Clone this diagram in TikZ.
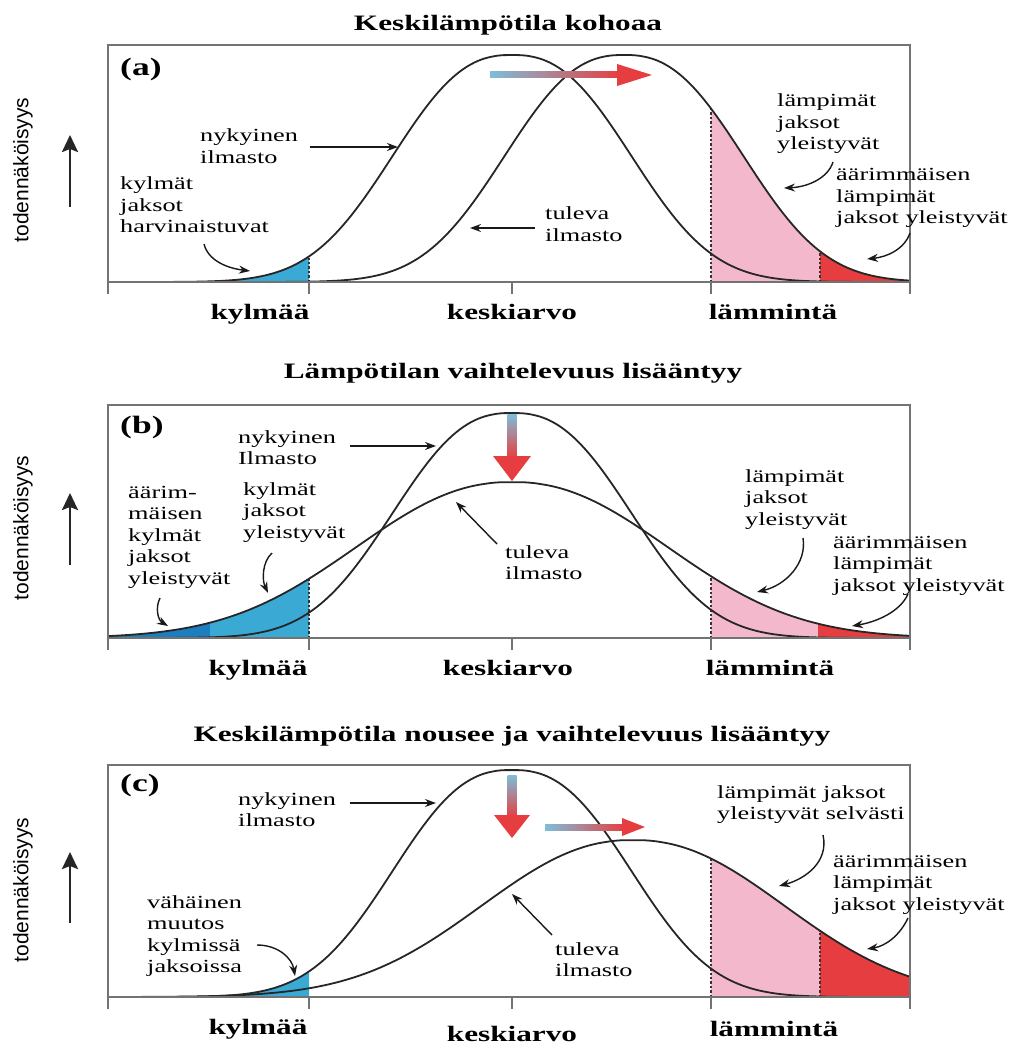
\documentclass[tikz,border=0pt]{standalone}
\usepackage{fontspec}
\setmainfont{Liberation Serif}
\newfontfamily\sansf{Liberation Sans}
\usepackage{graphicx}
\usetikzlibrary{arrows.meta}
\definecolor{cblue}{RGB}{58,170,212}
\definecolor{cdblue}{RGB}{28,126,190}
\definecolor{cpink}{RGB}{244,184,205}
\definecolor{cred}{RGB}{230,62,64}
\definecolor{gradblue}{RGB}{125,190,218}
\definecolor{gradpink}{RGB}{232,150,172}
\definecolor{framegray}{RGB}{115,115,115}
\newcommand{\lbl}[1]{\scalebox{1.42}[1]{\begin{tabular}[t]{@{}l@{}}#1\end{tabular}}}
\newcommand{\ttl}[1]{\scalebox{1.42}[1]{#1}}
\tikzset{
 lab/.style={anchor=base west, inner sep=0pt, font=\fontsize{18.5pt}{21.5pt}\selectfont},
 axlab/.style={anchor=base, inner sep=0pt, font=\fontsize{22pt}{26pt}\selectfont\bfseries},
 ttlst/.style={anchor=base, inner sep=0pt, font=\fontsize{22pt}{26pt}\selectfont\bfseries},
 panlab/.style={anchor=base west, inner sep=0pt, font=\fontsize{25pt}{28pt}\selectfont\bfseries},
 ylab/.style={rotate=90, inner sep=0pt, font=\sansf\fontsize{21pt}{24pt}\selectfont},
 curve/.style={line width=1.8pt, black!85},
 frm/.style={line width=1.8pt, framegray},
 ptr/.style={line width=1.4pt, black!90, -{Stealth[length=11pt,width=8pt]}},
 yarr/.style={line width=2.6pt, black!85, -{Stealth[length=17pt,width=16pt,inset=3pt]}},
 dotln/.style={line width=2.4pt, dotted, black!80},
 headfill/.style={fill=cred},
}
\begin{document}
\begin{tikzpicture}[x=1pt,y=-1pt,
 declare function={
  fa(\u,\m)=exp(-min((max(abs(\u-\m)/148,0.05))^2.47,9));
  fb(\u,\m,\a)=exp(-min((max(abs(\u-\m)/\a,0.05))^2.2,9));
 }]
\useasboundingbox (0,0) rectangle (1014,1048);

%% ================= PANEL (a) =================
\fill[cblue] (108,282) -- plot[domain=108:309,samples=60] (\x,{282-227*fa(\x,512)}) -- (309,282) -- cycle;
\fill[cpink] (711,282) -- plot[domain=711:820,samples=40] (\x,{282-227*fa(\x,624)}) -- (820,282) -- cycle;
\fill[cred] (820,282) -- plot[domain=820:910,samples=40] (\x,{282-227*fa(\x,624)}) -- (910,282) -- cycle;
\draw[dotln] (309,282) -- (309,{282-227*fa(309,512)});
\draw[dotln] (711,282) -- (711,{282-227*fa(711,624)});
\draw[dotln] (820,282) -- (820,{282-227*fa(820,624)});
\draw[curve] plot[domain=108:910,samples=220] (\x,{282-227*fa(\x,512)});
\draw[curve] plot[domain=108:910,samples=220] (\x,{282-227*fa(\x,624)});
\draw[frm] (108,294) -- (108,45) -- (910,45) -- (910,294);
\draw[frm] (108,282) -- (910,282);
\foreach \t in {309,512,711} \draw[frm] (\t,282) -- (\t,294);
% shift arrow
\shade[left color=gradblue, middle color=gradpink, right color=cred] (490,72) rectangle (620,78);
\fill[headfill] (617,64) -- (652,75) -- (617,86) -- cycle;
% texts
\node[ttlst] (a-t) at (508,31) {\ttl{Keskilämpötila kohoaa}};
\node[panlab] (a-p) at (120,76) {\ttl{(a)}};
\node[ylab] (a-y) at (23,170) {todennäköisyys};
\coordinate (a-y0) at (70,207); \coordinate (a-y1) at (70,135);
\draw[yarr] (a-y0) -- (a-y1);
\node[lab] (a-ny) at (200,142) {\lbl{nykyinen\\ilmasto}};
\coordinate (a-ny0) at (310,147); \coordinate (a-ny1) at (398,147);
\draw[ptr] (a-ny0) -- (a-ny1);
\node[lab] (a-ky) at (120,190) {\lbl{kylmät\\jaksot\\harvinaistuvat}};
\coordinate (a-ky0) at (204,244); \coordinate (a-ky1) at (250,271);
\draw[ptr] (a-ky0) .. controls (208,260) and (226,268) .. (a-ky1);
\node[lab] (a-tu) at (545,220) {\lbl{tuleva\\ilmasto}};
\coordinate (a-tu0) at (535,228); \coordinate (a-tu1) at (470,228);
\draw[ptr] (a-tu0) -- (a-tu1);
\node[lab] (a-la) at (777,107) {\lbl{lämpimät\\jaksot\\yleistyvät}};
\coordinate (a-la0) at (833,162); \coordinate (a-la1) at (784,188);
\draw[ptr] (a-la0) .. controls (828,178) and (808,187) .. (a-la1);
\node[lab] (a-aa) at (836,181) {\lbl{äärimmäisen\\lämpimät\\jaksot yleistyvät}};
\coordinate (a-aa0) at (910,233); \coordinate (a-aa1) at (867,259);
\draw[ptr] (a-aa0) .. controls (904,250) and (886,257) .. (a-aa1);
\node[axlab] (a-x1) at (260,319) {\ttl{kylmää}};
\node[axlab] (a-x2) at (512,319) {\ttl{keskiarvo}};
\node[axlab] (a-x3) at (773,319) {\ttl{lämmintä}};

%% ================= PANEL (b) =================
\fill[cdblue] (108,638) -- plot[domain=108:210,samples=40] (\x,{638-156*fb(\x,512,206)}) -- (210,638) -- cycle;
\fill[cblue] (210,638) -- plot[domain=210:309,samples=40] (\x,{638-156*fb(\x,512,206)}) -- (309,638) -- cycle;
\fill[cpink] (711,638) -- plot[domain=711:818,samples=40] (\x,{638-156*fb(\x,512,206)}) -- (818,638) -- cycle;
\fill[cred] (818,638) -- plot[domain=818:910,samples=40] (\x,{638-156*fb(\x,512,206)}) -- (910,638) -- cycle;
\draw[dotln] (309,638) -- (309,{638-156*fb(309,512,206)});
\draw[dotln] (711,638) -- (711,{638-156*fb(711,512,206)});
\draw[curve] plot[domain=108:910,samples=220] (\x,{638-225*fa(\x,512)});
\draw[curve] plot[domain=108:910,samples=220] (\x,{638-156*fb(\x,512,206)});
\draw[frm] (108,650) -- (108,405) -- (910,405) -- (910,650);
\draw[frm] (108,638) -- (910,638);
\foreach \t in {309,512,711} \draw[frm] (\t,638) -- (\t,650);
\shade[top color=gradblue, middle color=gradpink, bottom color=cred] (507.5,414) rectangle (516.5,458);
\fill[headfill] (493,456) -- (531,456) -- (512,481) -- cycle;
\node[ttlst] (b-t) at (513,378) {\ttl{Lämpötilan vaihtelevuus lisääntyy}};
\node[panlab] (b-p) at (120,433) {\ttl{(b)}};
\node[ylab] (b-y) at (23,528) {todennäköisyys};
\coordinate (b-y0) at (70,565); \coordinate (b-y1) at (70,493);
\draw[yarr] (b-y0) -- (b-y1);
\node[lab] (b-ny) at (238,443) {\lbl{nykyinen\\Ilmasto}};
\coordinate (b-ny0) at (350,446); \coordinate (b-ny1) at (436,446);
\draw[ptr] (b-ny0) -- (b-ny1);
\node[lab] (b-ky) at (243,495) {\lbl{kylmät\\jaksot\\yleistyvät}};
\coordinate (b-ky0) at (272,553); \coordinate (b-ky1) at (268,593);
\draw[ptr] (b-ky0) .. controls (262,562) and (262,580) .. (b-ky1);
\node[lab] (b-ak) at (128,498) {\lbl{äärim-\\mäisen\\kylmät\\jaksot\\yleistyvät}};
\coordinate (b-ak0) at (160,598); \coordinate (b-ak1) at (168,626);
\draw[ptr] (b-ak0) .. controls (155,608) and (158,620) .. (b-ak1);
\node[lab] (b-tu) at (505,558) {\lbl{tuleva\\ilmasto}};
\coordinate (b-tu0) at (497,544); \coordinate (b-tu1) at (456,502);
\draw[ptr] (b-tu0) -- (b-tu1);
\node[lab] (b-la) at (745,482) {\lbl{lämpimät\\jaksot\\yleistyvät}};
\coordinate (b-la0) at (803,538); \coordinate (b-la1) at (757,592);
\draw[ptr] (b-la0) .. controls (807,563) and (786,585) .. (b-la1);
\node[lab] (b-aa) at (833,548) {\lbl{äärimmäisen\\lämpimät\\jaksot yleistyvät}};
\coordinate (b-aa0) at (908,594); \coordinate (b-aa1) at (852,626);
\draw[ptr] (b-aa0) .. controls (900,612) and (876,622) .. (b-aa1);
\node[axlab] (b-x1) at (258,675) {\ttl{kylmää}};
\node[axlab] (b-x2) at (508,675) {\ttl{keskiarvo}};
\node[axlab] (b-x3) at (770,675) {\ttl{lämmintä}};

%% ================= PANEL (c) =================
\fill[cblue] (108,997) -- plot[domain=108:309,samples=60] (\x,{997-227*fa(\x,512)}) -- (309,997) -- cycle;
\fill[cpink] (711,997) -- plot[domain=711:820,samples=40] (\x,{997-157*fb(\x,633,200)}) -- (820,997) -- cycle;
\fill[cred] (820,997) -- plot[domain=820:910,samples=40] (\x,{997-157*fb(\x,633,200)}) -- (910,997) -- cycle;
\draw[dotln] (711,997) -- (711,{997-157*fb(711,633,200)});
\draw[dotln] (820,997) -- (820,{997-157*fb(820,633,200)});
\draw[curve] plot[domain=108:910,samples=220] (\x,{997-227*fa(\x,512)});
\draw[curve] plot[domain=108:910,samples=220] (\x,{997-157*fb(\x,633,200)});
\draw[frm] (108,1009) -- (108,765) -- (910,765) -- (910,1009);
\draw[frm] (108,997) -- (910,997);
\foreach \t in {309,512,711} \draw[frm] (\t,997) -- (\t,1009);
\shade[top color=gradblue, middle color=gradpink, bottom color=cred] (507.5,775) rectangle (516.5,817);
\fill[headfill] (494,815) -- (530,815) -- (512,838) -- cycle;
\shade[left color=gradblue, middle color=gradpink, right color=cred] (545,824) rectangle (625,830);
\fill[headfill] (622,818) -- (645,827) -- (622,836) -- cycle;
\node[ttlst] (c-t) at (512,741) {\ttl{Keskilämpötila nousee ja vaihtelevuus lisääntyy}};
\node[panlab] (c-p) at (120,791) {\ttl{(c)}};
\node[ylab] (c-y) at (23,890) {todennäköisyys};
\coordinate (c-y0) at (70,923); \coordinate (c-y1) at (70,852);
\draw[yarr] (c-y0) -- (c-y1);
\node[lab] (c-ny) at (238,805) {\lbl{nykyinen\\ilmasto}};
\coordinate (c-ny0) at (350,803); \coordinate (c-ny1) at (436,803);
\draw[ptr] (c-ny0) -- (c-ny1);
\node[lab] (c-va) at (147,908) {\lbl{vähäinen\\muutos\\kylmissä\\jaksoissa}};
\coordinate (c-va0) at (257,945); \coordinate (c-va1) at (295,976);
\draw[ptr] (c-va0) .. controls (278,945) and (292,958) .. (c-va1);
\node[lab] (c-tu) at (555,955) {\lbl{tuleva\\ilmasto}};
\coordinate (c-tu0) at (552,935); \coordinate (c-tu1) at (512,894);
\draw[ptr] (c-tu0) -- (c-tu1);
\node[lab] (c-la) at (717,798) {\lbl{lämpimät jaksot\\yleistyvät selvästi}};
\coordinate (c-la0) at (823,835); \coordinate (c-la1) at (779,886);
\draw[ptr] (c-la0) .. controls (829,862) and (805,879) .. (c-la1);
\node[lab] (c-aa) at (833,867) {\lbl{äärimmäisen\\lämpimät\\jaksot yleistyvät}};
\coordinate (c-aa0) at (908,918); \coordinate (c-aa1) at (867,949);
\draw[ptr] (c-aa0) .. controls (900,935) and (886,946) .. (c-aa1);
\node[axlab] (c-x1) at (258,1034) {\ttl{kylmää}};
\node[axlab] (c-x2) at (512,1041) {\ttl{keskiarvo}};
\node[axlab] (c-x3) at (774,1036) {\ttl{lämmintä}};
\end{tikzpicture}
\end{document}
